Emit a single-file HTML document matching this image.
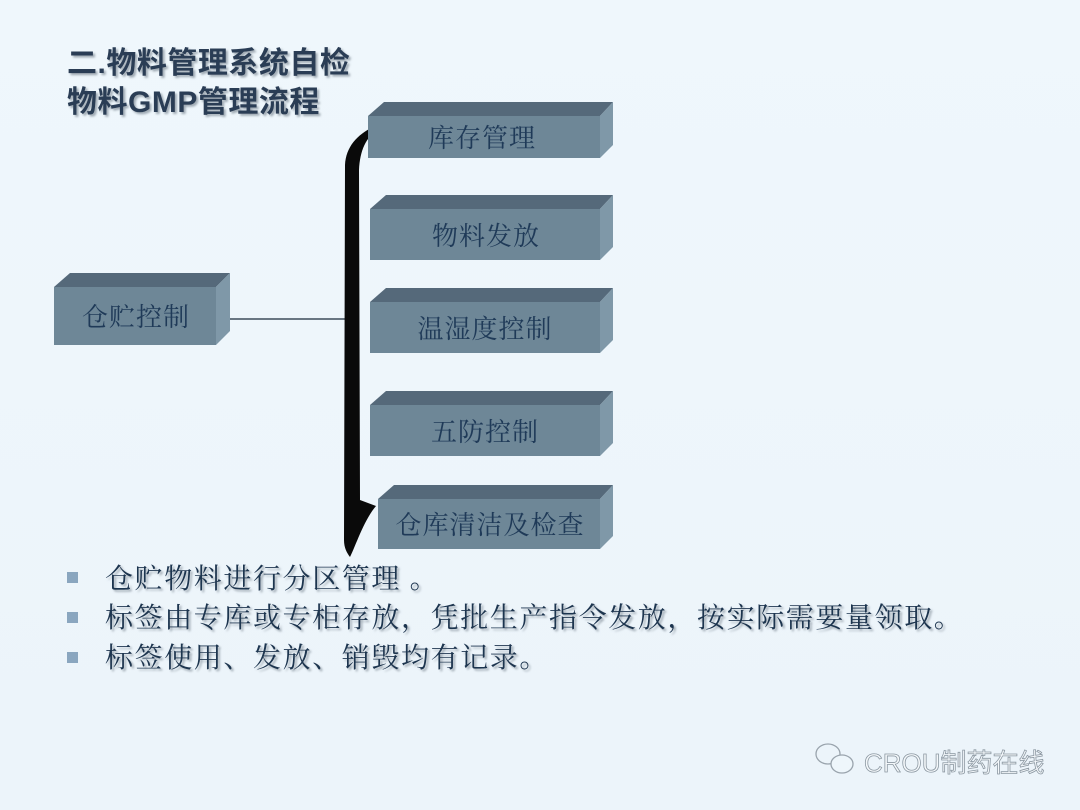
<!DOCTYPE html>
<html><head><meta charset="utf-8"><style>
html,body{margin:0;padding:0;background:#eef6fb;}
svg{display:block}
</style></head><body>
<svg width="1080" height="810" viewBox="0 0 1080 810" xmlns="http://www.w3.org/2000/svg">
<defs>
<linearGradient id="bg" x1="0" y1="0" x2="0" y2="1"><stop offset="0" stop-color="#eff7fc"/><stop offset="1" stop-color="#ecf4fa"/></linearGradient>
<filter id="sh"><feDropShadow dx="2" dy="2" stdDeviation="1" flood-color="#8a96a0" flood-opacity="0.8"/></filter>
</defs>
<rect width="1080" height="810" fill="url(#bg)"/>
<g font-family="'Liberation Sans','Noto Sans CJK SC',sans-serif" font-weight="bold" font-size="30" fill="#2a3d55" filter="url(#sh)" letter-spacing="0.5">
<text x="67" y="73">二.物料管理系统自检</text>
<text x="67" y="112">物料GMP管理流程</text>
</g>
<line x1="217" y1="319" x2="346" y2="319" stroke="#1a2a3a" stroke-width="1.2"/>
<path d="M375,126 C358,134 346,146 345,165 L344,540 C344,548 347,553 350,557 C356,545 364,520 376,506 L360,500 L359,170 C360,150 366,138 377,130 Z" fill="#0a0a0a"/>
<g font-family="'Liberation Serif','Noto Serif CJK SC',serif" font-size="26" fill="#1f3a58" text-anchor="middle" letter-spacing="1">
<g>
<polygon points="368,116 384,102 613,102 600,116" fill="#55697a"/>
<polygon points="600,116 613,102 613,145 600,158" fill="#7f98a8"/>
<rect x="368" y="116" width="232" height="42" fill="#6e8797"/>
<text x="482" y="147">库存管理</text>
</g>
<g>
<polygon points="370,209 386,195 613,195 600,209" fill="#55697a"/>
<polygon points="600,209 613,195 613,247 600,260" fill="#7f98a8"/>
<rect x="370" y="209" width="230" height="51" fill="#6e8797"/>
<text x="486" y="245">物料发放</text>
</g>
<g>
<polygon points="370,302 386,288 613,288 600,302" fill="#55697a"/>
<polygon points="600,302 613,288 613,340 600,353" fill="#7f98a8"/>
<rect x="370" y="302" width="230" height="51" fill="#6e8797"/>
<text x="485" y="338">温湿度控制</text>
</g>
<g>
<polygon points="370,405 386,391 613,391 600,405" fill="#55697a"/>
<polygon points="600,405 613,391 613,443 600,456" fill="#7f98a8"/>
<rect x="370" y="405" width="230" height="51" fill="#6e8797"/>
<text x="485" y="441">五防控制</text>
</g>
<g>
<polygon points="378,499 394,485 613,485 600,499" fill="#55697a"/>
<polygon points="600,499 613,485 613,536 600,549" fill="#7f98a8"/>
<rect x="378" y="499" width="222" height="50" fill="#6e8797"/>
<text x="490" y="534">仓库清洁及检查</text>
</g>
<g>
<polygon points="54,287 70,273 230,273 216,287" fill="#55697a"/>
<polygon points="216,287 230,273 230,331 216,345" fill="#7f98a8"/>
<rect x="54" y="287" width="162" height="58" fill="#6e8797"/>
<text x="136" y="326">仓贮控制</text>
</g>
</g>
<g fill="#8aa6bf">
<rect x="67" y="572" width="11" height="11"/>
<rect x="67" y="612" width="11" height="11"/>
<rect x="67" y="652" width="11" height="11"/>
</g>
<g font-family="'Liberation Serif','Noto Serif CJK SC',serif" font-size="28" fill="#1e3550" filter="url(#sh)" letter-spacing="1.6">
<text x="105" y="588">仓贮物料进行分区管理 。</text>
<text x="105" y="627">标签由专库或专柜存放，凭批生产指令发放，按实际需要量领取。</text>
<text x="105" y="667">标签使用、发放、销毁均有记录。</text>
</g>
<g fill="none" stroke="#9aa4ad" stroke-width="1.3">
<ellipse cx="828" cy="754" rx="12" ry="10"/>
<ellipse cx="842" cy="764" rx="11" ry="9" fill="#eef6fb"/>
</g>
<text x="864" y="772" font-family="'Liberation Sans','Noto Sans CJK SC',sans-serif" font-size="26" fill="#f4f8fb" stroke="#8c98a2" stroke-width="0.8">CROU制药在线</text>
</svg>
</body></html>
